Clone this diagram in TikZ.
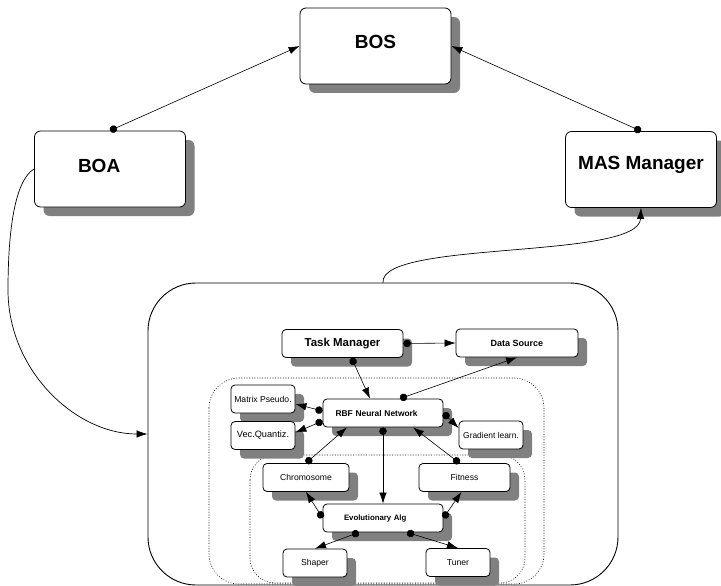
\documentclass[tikz,border=0pt]{standalone}
\usepackage{fontspec}
\setmainfont{Liberation Sans}
\usetikzlibrary{arrows.meta,shadows}

\begin{document}
\begin{tikzpicture}[x=1pt,y=-1pt,line cap=round,line join=round,
  box/.style={draw,fill=white,rounded corners=6pt,line width=0.8pt,
    drop shadow={shadow xshift=9pt,shadow yshift=-9pt,fill=gray,opacity=1},
    inner sep=0pt,minimum width=151pt,minimum height=76pt,
    font=\fontsize{19}{22}\selectfont\bfseries},
  unit/.style={box,rounded corners=4pt,minimum height=28pt,
    font=\fontsize{8.6}{10}\selectfont},
  group/.style={draw,dotted,line width=0.6pt},
  link/.style={{Circle[length=7.5pt]}-{Latex[length=11pt,width=7.5pt]},line width=0.6pt},
  feed/.style={-{Latex[length=11pt,width=7.5pt]},line width=0.7pt}]
  \useasboundingbox (0,0) rectangle (721,586);

  % top level
  \node[box,text depth=8pt] (bos) at (375.5,46) {BOS};
  \node[box,text height=8pt,text width=64pt,align=left] (boa) at (110,169) {BOA};
  \node[box,text depth=13pt] (mas) at (641,169.5) {MAS Manager};

  % agent
  \node[draw,rounded corners=48pt,line width=0.9pt,minimum width=470pt,minimum height=302pt] (agent) at (383,434) {};
  \draw[group,rounded corners=30pt] (209,378) rectangle (544,584);
  \draw[group,rounded corners=25pt] (250,455) rectangle (525,583);

  \node[unit,minimum width=121pt,font=\fontsize{11.5}{13}\selectfont\bfseries] (task) at (342.5,343.5) {Task Manager};
  \node[unit,minimum width=122pt,font=\fontsize{9}{11}\selectfont\bfseries] (data) at (517,343) {Data Source};
  \node[unit,minimum width=120pt,font=\fontsize{8.4}{10}\selectfont\bfseries,text width=95pt,align=left] (rbf) at (383,413) {RBF Neural Network};
  \node[unit,minimum width=64pt] (matrix) at (263,399) {Matrix Pseudo.};
  \node[unit,minimum width=64pt,font=\fontsize{9.2}{11}\selectfont] (vec) at (263,435.5) {Vec.Quantiz.};
  \node[unit,minimum width=64pt,font=\fontsize{8.4}{10}\selectfont] (grad) at (491,435) {Gradient learn.};
  \node[unit,minimum width=86pt] (chrom) at (306,477.5) {Chromosome};
  \node[unit,minimum width=91pt] (fit) at (464.5,477.5) {Fitness};
  \node[unit,minimum width=120pt,font=\fontsize{7.8}{9}\selectfont\bfseries,text width=78pt,align=left] (evol) at (383,518) {Evolutionary Alg};
  \node[unit,minimum width=64pt] (shaper) at (315,563) {Shaper};
  \node[unit,minimum width=64pt] (tuner) at (458,562.5) {Tuner};

  % connectors
  \draw[link] (boa.north) -- (bos.west);
  \draw[link] (mas.north) -- (bos.east);
  \draw[feed] (boa.west) .. controls (15,180) and (8,230) .. (8,290)
    .. controls (8,370) and (75,434) .. (agent.west);
  \draw[feed] (agent.north) .. controls (380,240) and (639,260) .. (mas.south);

  \draw[link] (task.east) -- (data.west);
  \draw[link] ([xshift=9pt]task.south) -- ([xshift=-13pt]rbf.north);
  \draw[link] ([xshift=17pt]rbf.north) -- (data.south);
  \draw[link] ([yshift=2pt]rbf.west) -- ([yshift=-5pt]matrix.east);
  \draw[link] ([yshift=-8pt]rbf.west) -- ([yshift=3pt]vec.east);
  \draw[link] (rbf.east) -- ([yshift=7pt]grad.west);
  \draw[link] (chrom.north) -- ([xshift=-36pt]rbf.south);
  \draw[link] (rbf.south) -- (evol.north);
  \draw[link] ([xshift=-5pt]fit.north) -- ([xshift=30pt]rbf.south);
  \draw[link] (evol.west) -- (chrom.south);
  \draw[link] (evol.east) -- ([xshift=-3pt]fit.south);
  \draw[link] ([xshift=-24pt]evol.south) -- (shaper.north);
  \draw[link] ([xshift=24pt]evol.south) -- (tuner.north);
\end{tikzpicture}
\end{document}
